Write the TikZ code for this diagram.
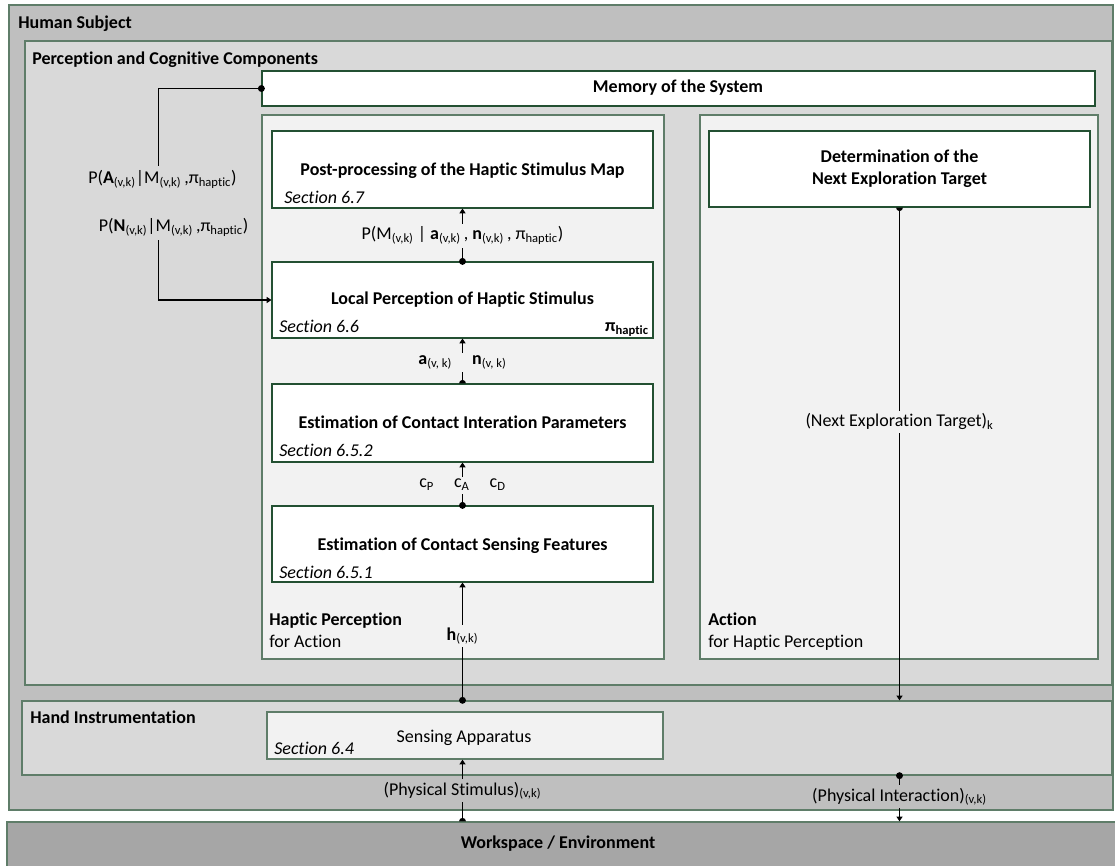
\documentclass[tikz,border=0pt]{standalone}
\usepackage{fontspec}
\setmainfont[Ligatures=NoCommon]{Carlito}
\usetikzlibrary{arrows.meta,fit,calc}
\definecolor{outerfill}{HTML}{BFBFBF}
\definecolor{midfill}{HTML}{D9D9D9}
\definecolor{panelfill}{HTML}{F2F2F2}
\definecolor{envfill}{HTML}{A6A6A6}
\definecolor{framecol}{RGB}{95,125,105}
\definecolor{boxcol}{RGB}{35,80,50}
\newcommand{\sbs}[1]{\textsubscript{#1}}
\newcommand{\fsz}{\fontsize{13.5}{16}\selectfont}
\begin{document}
\begin{tikzpicture}[x=0.75pt,y=-0.75pt, font=\fsz,
  frame/.style={draw=framecol, line width=1pt, inner sep=0pt},
  wbox/.style={draw=boxcol, fill=white, line width=0.9pt, inner sep=0pt},
  txt/.style={inner sep=0pt},
  btxt/.style={inner sep=0pt, font=\fsz\bfseries},
  itxt/.style={inner sep=0pt, font=\fsz\itshape},
  conn/.style={line width=0.8pt, black},
  arr/.style={conn, -{Triangle[length=3.5pt,width=4.5pt]}},
  lab/.style={inner xsep=3pt, inner ysep=2pt},
]
\useasboundingbox (0,0) rectangle (1115,866);
% frames
\node[frame, fill=outerfill, fit={(9,5) (1113,810)}] (human) {};
\node[frame, fill=envfill, fit={(7,822) (1120,870)}] (env) {};
\node[frame, fill=midfill, fit={(25,41) (1112,685)}] (perc) {};
\node[frame, fill=midfill, fit={(22,701) (1112,775)}] (hand) {};
\node[wbox, fit={(262,71) (1095,106)}] (mem) {};
\node[frame, fill=panelfill, fit={(262,115) (664,659)}] (hpanel) {};
\node[frame, fill=panelfill, fit={(700,115) (1098,659)}] (apanel) {};
\node[wbox, fit={(272,131) (653,208)}] (post) {};
\node[wbox, fit={(272,262) (653,338)}] (local) {};
\node[wbox, fit={(272,384) (653,462)}] (params) {};
\node[wbox, fit={(272,506) (653,582)}] (features) {};
\node[wbox, fit={(709,131) (1090,207)}] (determ) {};
\node[frame, fill=panelfill, fit={(267,712) (663,759)}] (sensing) {};

% titles and texts
\node[btxt, anchor=base west] (tHuman) at (18,29) {Human Subject};
\node[btxt, anchor=base west] (tPerc) at (32,65) {Perception and Cognitive Components};
\node[btxt, anchor=base] (tMem) at (678,93) {Memory of the System};
\node[btxt, anchor=base] (tPost) at (462.5,176) {Post-processing of the Haptic Stimulus Map};
\node[itxt, anchor=base west] (sPost) at (284,204) {Section 6.7};
\node[btxt, anchor=base] (tLocal) at (462.5,305) {Local Perception of Haptic Stimulus};
\node[itxt, anchor=base west] (sLocal) at (279,333) {Section 6.6};
\node[btxt, anchor=base east] (piLocal) at (649,332) {π\sbs{haptic}};
\node[btxt, anchor=base] (tParams) at (462.5,429) {Estimation of Contact Interation Parameters};
\node[itxt, anchor=base west] (sParams) at (279,457) {Section 6.5.2};
\node[btxt, anchor=base] (tFeat) at (462.5,550) {Estimation of Contact Sensing Features};
\node[itxt, anchor=base west] (sFeat) at (279,578) {Section 6.5.1};
\node[btxt, anchor=base west] (tHP1) at (269,625) {Haptic Perception};
\node[txt, anchor=base west] (tHP2) at (269,647) {for Action};
\node[btxt, anchor=base west] (tAc1) at (708,625) {Action};
\node[txt, anchor=base west] (tAc2) at (708,647) {for Haptic Perception};
\node[btxt, anchor=base] (tDet1) at (899.5,163) {Determination of the};
\node[btxt, anchor=base] (tDet2) at (899.5,185) {Next Exploration Target};
\node[btxt, anchor=base west] (tHand) at (30,723) {Hand Instrumentation};
\node[txt, anchor=base] (tSens) at (464,742) {Sensing Apparatus};
\node[itxt, anchor=base west] (sSens) at (274,754) {Section 6.4};
\node[btxt, anchor=base] (tEnv) at (558,848) {Workspace / Environment};

% connectors
\draw[arr] (mem.west) -- ++(-103,0) |- (local.west);
\fill (mem.west) circle[radius=2.6pt];
\node[inner xsep=3pt, inner ysep=3pt, fill=midfill, align=left, anchor=north west] (lAN) at (84,166)
  {P(\textbf{A}\sbs{(v,k)}|M\sbs{(v,k)}\,,π\sbs{haptic})\\[20pt]
   \hspace{8pt}P(\textbf{N}\sbs{(v,k)}|M\sbs{(v,k)}\,,π\sbs{haptic})};

\draw[arr] (local.north) -- (post.south);
\fill (local.north) circle[radius=2.6pt];
\node[lab, fill=panelfill, anchor=base] (lM) at (462.5,240)
  {P(M\sbs{(v,k)} | \textbf{a}\sbs{(v,k)}\,, \textbf{n}\sbs{(v,k)}\,, π\sbs{haptic})};

\draw[arr] (params.north) -- (local.south);
\fill (params.north) ++(-2.6pt,0) arc[start angle=180,end angle=0,radius=2.6pt];
\node[lab, fill=panelfill, anchor=base] (lan) at (462.5,365)
  {\textbf{a}\sbs{(v, k)}\hspace{15pt}\textbf{n}\sbs{(v, k)}};

\draw[arr] (features.north) -- (params.south);
\fill (features.north) circle[radius=2.6pt];
\node[lab, fill=panelfill, anchor=base] (lc) at (462.5,488)
  {c\sbs{P}\hspace{15pt}c\sbs{A}\hspace{15pt}c\sbs{D}};

\draw[arr] (hand.north -| features.north) -- (features.south);
\fill (hand.north -| features.north) circle[radius=2.6pt];
\node[lab, fill=panelfill, anchor=base] (lh) at (462.5,640)
  {\textbf{h}\sbs{(v,k)}};

\draw[arr] (env.north -| features.south) -- (sensing.south -| features.south);
\fill (env.north -| features.south) ++(-2.6pt,0) arc[start angle=180,end angle=0,radius=2.6pt];
\node[lab, fill=outerfill, anchor=base] (lps) at (462.5,795)
  {(Physical Stimulus)\sbs{(v,k)}};

\draw[arr] (determ.south) -- (hand.north -| determ.south);
\fill (determ.south) ++(-2.6pt,0) arc[start angle=180,end angle=360,radius=2.6pt];
\node[lab, fill=panelfill, anchor=base] (lnet) at (899.5,427)
  {(Next Exploration Target)\sbs{k}};

\draw[arr] (hand.south -| determ.south) -- (env.north -| determ.south);
\fill (hand.south -| determ.south) circle[radius=2.6pt];
\node[lab, fill=outerfill, anchor=base] (lpi) at (899.5,801)
  {(Physical Interaction)\sbs{(v,k)}};
\end{tikzpicture}
\end{document}
